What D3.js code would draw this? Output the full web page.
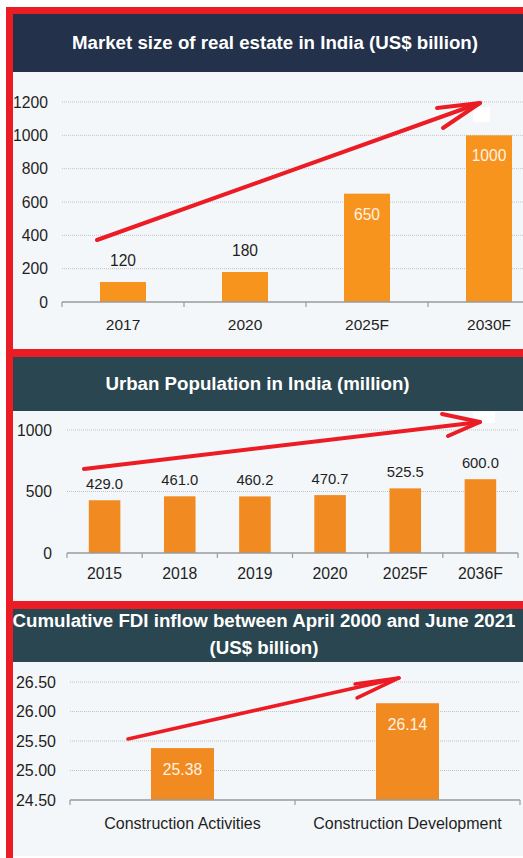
<!DOCTYPE html>
<html>
<head>
<meta charset="utf-8">
<script src="https://cdn.jsdelivr.net/npm/d3@7"></script>
<style>
  html, body { margin: 0; padding: 0; background: #ffffff; }
  svg { display: block; }
  text { font-family: "Liberation Sans", Arial, sans-serif; }
</style>
</head>
<body>
<svg id="chart" width="523" height="858"></svg>
<script>
// ---- Market size of real estate in India (US$ billion)
const marketYears = ["2017", "2020", "2025F", "2030F"];
const marketSize = [120, 180, 650, 1000];
const marketTicks = [0, 200, 400, 600, 800, 1000, 1200];

// ---- Urban population in India (million)
const urbanYears = ["2015", "2018", "2019", "2020", "2025F", "2036F"];
const urbanPopulation = [429.0, 461.0, 460.2, 470.7, 525.5, 600.0];
const urbanTicks = [0, 500, 1000];

// ---- Cumulative FDI inflow, April 2000 - June 2021 (US$ billion)
const fdiSectors = ["Construction Activities", "Construction Development"];
const fdiInflow = [25.38, 26.14];
const fdiTicks = [24.5, 25.0, 25.5, 26.0, 26.5];

// Hand-drawn trend arrows, in (category steps, value) units:
// [start, tip, upper barb end, lower barb end]
const marketTrend = [[0.287, 372], [3.426, 1194], [3.074, 1164], [3.123, 1044]];
const urbanTrend = [[0.226, 683], [5.494, 1065], [4.989, 1130], [5.069, 951]];
const fdiTrend = [[0.258, 25.534], [1.462, 26.568], [1.267, 26.466], [1.276, 26.229]];

// small blank patches next to the arrow tips: [x0, x1, v0, v1]
const marketPatch = [3.369, 3.508, 1170, 1080];
const urbanPatch = [5.401, 5.694, 1146, 1057];

const svg = d3.select("#chart");
const RED = "#ec1c24";
const PANEL_BG = "#f4f7f9";
const INK = "#1f1f1f";

function panel(cfg) {
  const g = svg.append("g");

  // header band + body
  g.append("rect").attr("x", 13).attr("y", cfg.headTop).attr("width", 520)
    .attr("height", cfg.headBottom - cfg.headTop).attr("fill", cfg.headColor);
  g.append("rect").attr("x", 13).attr("y", cfg.headBottom).attr("width", 520)
    .attr("height", cfg.bodyBottom - cfg.headBottom).attr("fill", PANEL_BG);

  cfg.title.forEach((t, i) => {
    g.append("text")
      .attr("x", cfg.titleX).attr("y", cfg.titleY[i])
      .attr("text-anchor", "middle")
      .attr("fill", "#ffffff")
      .attr("font-weight", "bold")
      .attr("font-size", "18.7px")
      .text(t);
  });

  const x = d3.scaleBand().domain(cfg.categories).range(cfg.xRange)
    .paddingInner(cfg.pad).paddingOuter(cfg.pad / 2);
  const y = d3.scaleLinear().domain(cfg.domain).range(cfg.yRange);
  const x0 = cfg.xRange[0];

  // dotted gridlines
  g.append("g").selectAll("line")
    .data(cfg.ticks.filter(t => t !== cfg.domain[0]))
    .join("line")
    .attr("x1", x0).attr("x2", cfg.xRange[1])
    .attr("y1", d => y(d)).attr("y2", d => y(d))
    .attr("stroke", "#bfc3c6").attr("stroke-width", 1)
    .attr("stroke-dasharray", "1,1");

  // y axis labels
  const yAxis = d3.axisLeft(y).tickValues(cfg.ticks).tickSize(0)
    .tickPadding(cfg.yPad).tickFormat(d3.format(cfg.tickFmt));
  const ya = g.append("g").attr("transform", `translate(${x0},0)`).call(yAxis);
  ya.select(".domain").remove();
  ya.selectAll("text").attr("font-size", cfg.yFont).attr("fill", INK)
    .attr("font-family", "'Liberation Sans', Arial, sans-serif");

  // bars
  g.append("g").selectAll("rect")
    .data(cfg.values)
    .join("rect")
    .attr("x", (d, i) => x(cfg.categories[i]))
    .attr("width", x.bandwidth())
    .attr("y", d => y(d))
    .attr("height", d => y(cfg.domain[0]) - y(d))
    .attr("fill", cfg.barColor);

  // value labels
  const fmt = d3.format(cfg.valueFmt);
  g.append("g").selectAll("text")
    .data(cfg.values)
    .join("text")
    .attr("x", (d, i) => x(cfg.categories[i]) + x.bandwidth() / 2)
    .attr("y", d => cfg.inside(d) ? y(d) + cfg.inOffset : y(d) - cfg.outOffset)
    .attr("text-anchor", "middle")
    .attr("font-size", cfg.valueFont)
    .attr("fill", d => cfg.inside(d) ? "#fff3e6" : INK)
    .text(d => fmt(d));

  // category axis: baseline, band boundary ticks, labels
  const base = y(cfg.domain[0]);
  g.append("line").attr("x1", x0).attr("x2", cfg.xRange[1])
    .attr("y1", base).attr("y2", base)
    .attr("stroke", "#9a9a9a").attr("stroke-width", 1.5);
  g.append("g").selectAll("line")
    .data(d3.range(cfg.categories.length + 1))
    .join("line")
    .attr("x1", i => x0 + i * x.step()).attr("x2", i => x0 + i * x.step())
    .attr("y1", base).attr("y2", base + 5)
    .attr("stroke", "#9a9a9a").attr("stroke-width", 1.2);
  const xAxis = d3.axisBottom(x).tickSize(0).tickPadding(cfg.xPad);
  const xa = g.append("g").attr("transform", `translate(0,${base})`).call(xAxis);
  xa.select(".domain").remove();
  xa.selectAll("text").attr("font-size", cfg.xFont).attr("fill", INK)
    .attr("font-family", "'Liberation Sans', Arial, sans-serif");

  // blank patch near the arrow tip
  if (cfg.patch) {
    const p = cfg.patch;
    g.append("rect")
      .attr("x", x0 + p[0] * x.step()).attr("width", (p[1] - p[0]) * x.step())
      .attr("y", y(p[2])).attr("height", y(p[3]) - y(p[2]))
      .attr("fill", "#ffffff");
  }

  // trend arrow
  const pt = a => [x0 + a[0] * x.step(), y(a[1])];
  const [s, tip, b1, b2] = cfg.trend.map(pt);
  const line = d3.line();
  const arrow = g.append("g").attr("fill", "none").attr("stroke", RED)
    .attr("stroke-width", cfg.arrowWidth).attr("stroke-linecap", "round")
    .attr("stroke-linejoin", "round");
  arrow.append("path").attr("d", line([s, tip]));
  arrow.append("path").attr("d", line([b1, tip, b2]));
}

panel({
  headTop: 14, headBottom: 72, bodyBottom: 349, headColor: "#23314a",
  title: ["Market size of real estate in India (US$ billion)"],
  titleX: 275, titleY: [48.5],
  categories: marketYears, values: marketSize, ticks: marketTicks,
  domain: [0, 1200], yRange: [302, 102], xRange: [62, 550], pad: 0.623,
  tickFmt: "d", yPad: 14, yFont: "15.7px",
  xPad: 16.5, xFont: "15.5px",
  barColor: "#f7941e", valueFmt: "d", valueFont: "15.6px",
  inside: d => d >= 400, inOffset: 26, outOffset: 16,
  trend: marketTrend, patch: marketPatch, arrowWidth: 4
});

panel({
  headTop: 357, headBottom: 411, bodyBottom: 601, headColor: "#2a4650",
  title: ["Urban Population in India (million)"],
  titleX: 257.5, titleY: [389.5],
  categories: urbanYears, values: urbanPopulation, ticks: urbanTicks,
  domain: [0, 1000], yRange: [553, 430], xRange: [67, 518], pad: 0.58,
  tickFmt: "d", yPad: 15, yFont: "15.7px",
  xPad: 14.5, xFont: "15.8px",
  barColor: "#f28a22", valueFmt: ".1f", valueFont: "14.8px",
  inside: d => false, inOffset: 0, outOffset: 11.5,
  trend: urbanTrend, patch: urbanPatch, arrowWidth: 4
});

panel({
  headTop: 609, headBottom: 662, bodyBottom: 856, headColor: "#2a4650",
  title: ["Cumulative FDI inflow between April 2000 and June 2021", "(US$ billion)"],
  titleX: 264, titleY: [626.5, 654],
  categories: fdiSectors, values: fdiInflow, ticks: fdiTicks,
  domain: [24.5, 26.5], yRange: [800, 682], xRange: [70, 520], pad: 0.72,
  tickFmt: ".2f", yPad: 14, yFont: "16px",
  xPad: 17.5, xFont: "16px",
  barColor: "#f28a22", valueFmt: ".2f", valueFont: "15.7px",
  inside: d => true, inOffset: 26.5, outOffset: 0,
  trend: fdiTrend, patch: null, arrowWidth: 3.6
});

// red frame: top edge, left edge and the separators between panels
const frame = svg.append("g").attr("fill", RED);
frame.append("rect").attr("x", 6).attr("y", 7).attr("width", 530).attr("height", 7);
frame.append("rect").attr("x", 6).attr("y", 349).attr("width", 530).attr("height", 8);
frame.append("rect").attr("x", 6).attr("y", 601).attr("width", 530).attr("height", 8);
frame.append("rect").attr("x", 6).attr("y", 7).attr("width", 7).attr("height", 860);
</script>
</body>
</html>
